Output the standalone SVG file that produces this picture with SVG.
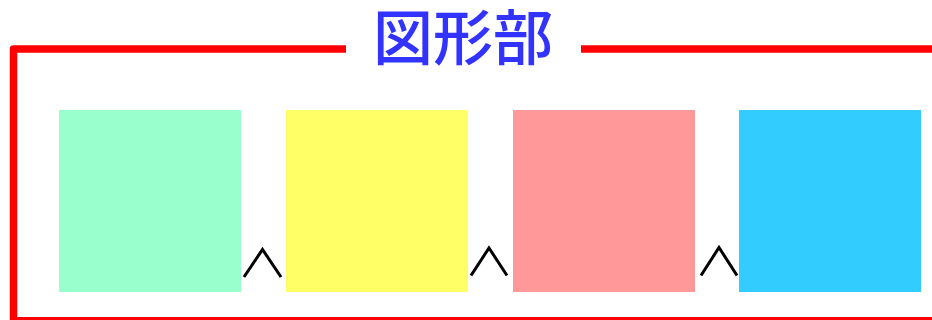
<svg xmlns="http://www.w3.org/2000/svg" width="932" height="320" viewBox="0 0 932 320">
<style>
.frame{fill:none;stroke:#ff0000;stroke-width:7.5;stroke-linejoin:round}
.node{stroke:none}
.chev{fill:none;stroke:#000;stroke-width:3;stroke-linejoin:miter}
.title{font-family:"Noto Sans CJK JP","Noto Sans CJK SC",sans-serif;font-size:60px;font-weight:500;fill:#3333ff;text-anchor:middle}
</style>
<rect width="932" height="320" fill="#fff"/>
<g id="frame">
<path class="frame" d="M13.5 330 V49 H346"/>
<path class="frame" d="M581 49 H940"/>
<path class="frame" d="M10 320.8 H940"/>
</g>
<g id="title"><text class="title" x="463" y="60">図形部</text></g>
<g id="node1"><rect class="node" x="59" y="110" width="182" height="182" fill="#99ffcc"/></g>
<g id="node2"><rect class="node" x="286" y="110" width="182" height="182" fill="#ffff66"/></g>
<g id="node3"><rect class="node" x="513" y="110" width="182" height="182" fill="#ff9999"/></g>
<g id="node4"><rect class="node" x="739" y="110" width="182" height="182" fill="#33ccff"/></g>
<g id="connectors">
<polyline class="chev" points="244,277 262.5,249.5 281,277"/>
<polyline class="chev" points="471,275.5 489,248 507,275.5"/>
<polyline class="chev" points="701,275.5 719,247.5 737,275.5"/>
</g>
</svg>
